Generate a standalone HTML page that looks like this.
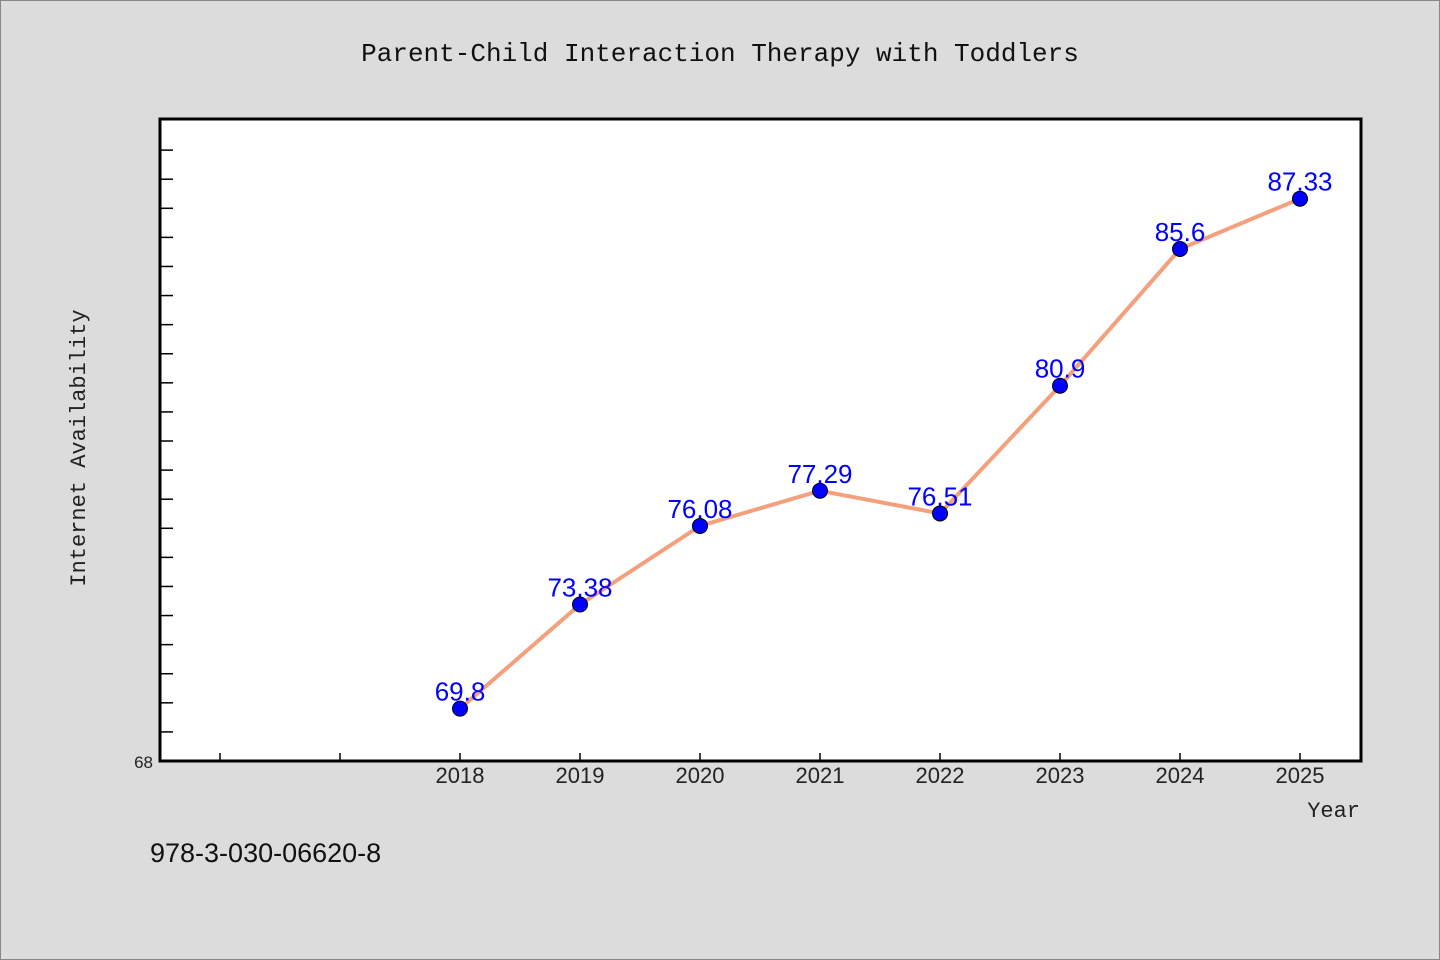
<!DOCTYPE html>
<html><head><meta charset="utf-8"><style>
body{margin:0;background:#dcdcdc;}
svg{display:block;font-family:"Liberation Mono","DejaVu Sans Mono",monospace;}
</style></head><body>
<svg width="1440" height="960">
<rect x="0.5" y="0.5" width="1439" height="959" fill="#dcdcdc" stroke="#888"/>
<text x="720" y="61" text-anchor="middle" font-size="26" fill="#111">Parent-Child Interaction Therapy with Toddlers</text>
<rect x="160" y="119" width="1201" height="642" fill="#fff" stroke="#000" stroke-width="3"/>
<g id="yticks"></g><g id="xticks"></g><g id="series"></g>
<text x="85" y="448" text-anchor="middle" font-size="22" fill="#222" transform="rotate(-90 85 448)">Internet Availability</text>
<text x="1360" y="817" text-anchor="end" font-size="22" fill="#222">Year</text>
<text x="150" y="862" font-family="Liberation Sans, sans-serif" font-size="27" fill="#111">978-3-030-06620-8</text>
</svg>
<script>
const years=[2018,2019,2020,2021,2022,2023,2024,2025];
const values=[69.8,73.38,76.08,77.29,76.51,80.9,85.6,87.33];
const labels=["69.8","73.38","76.08","77.29","76.51","80.9","85.6","87.33"];
const yTicks=[68,69,70,71,72,73,74,75,76,77,78,79,80,81,82,83,84,85,86,87,88,89];
const xTicks=[2016,2017,2018,2019,2020,2021,2022,2023,2024,2025];
const NS="http://www.w3.org/2000/svg";
const X=v=>460+(v-2018)*120;
const Y=v=>761-(v-68)*29.09;
function mk(t,a,p){const e=document.createElementNS(NS,t);for(const k in a)e.setAttribute(k,a[k]);p.appendChild(e);return e;}
const yt=document.getElementById('yticks');
yTicks.forEach(v=>{const l=mk('line',{x1:160,x2:173,y1:Y(v),y2:Y(v),stroke:'#000','stroke-width':1.5},yt);

});
const yl=mk('text',{x:153,y:768,'text-anchor':'end','font-size':17,fill:'#222','font-family':'Liberation Sans, sans-serif'},yt);yl.textContent='68';


const xt=document.getElementById('xticks');
xTicks.forEach(v=>{const l=mk('line',{x1:X(v),x2:X(v),y1:761,y2:753,stroke:'#000','stroke-width':1.5},xt);


if(v>=2018){const t=mk('text',{x:X(v),y:783,'text-anchor':'middle','font-size':22,fill:'#222','font-family':'Liberation Sans, sans-serif'},xt);t.textContent=v;

}});
const s=document.getElementById('series');
const pl=mk('polyline',{points:years.map((y,i)=>X(y)+','+Y(values[i])).join(' '),fill:'none',stroke:'#f4a07c','stroke-width':4},s);


years.forEach((y,i)=>{const c=mk('circle',{cx:X(y),cy:Y(values[i]),r:7.5,fill:'#0000ff',stroke:'#000','stroke-width':1},s);


const t=mk('text',{x:X(y),y:Y(values[i])-8,'text-anchor':'middle','font-size':26,fill:'#0000ff','font-family':'Liberation Sans, sans-serif'},s);t.textContent=labels[i];

});
</script>
</body></html>
